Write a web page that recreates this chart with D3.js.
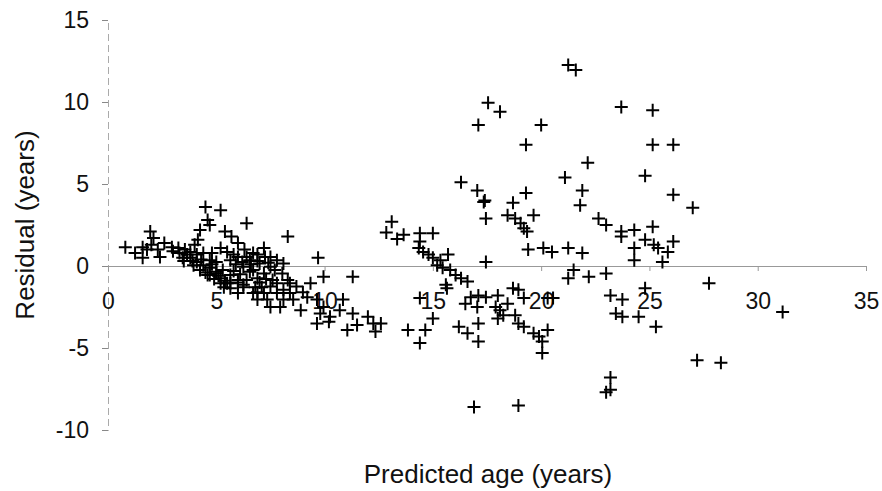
<!DOCTYPE html>
<html>
<head>
<meta charset="utf-8">
<script src="https://cdn.jsdelivr.net/npm/d3@7"></script>
<style>
  body { margin: 0; background: #fff; }
  svg { display: block; font-family: "Liberation Sans", Arial, sans-serif; }
</style>
</head>
<body>
<div id="chart"></div>
<script>
// residual vs predicted age
const xTicks = [0, 5, 10, 15, 20, 25, 30, 35];
const yTicks = [-10, -5, 0, 5, 10, 15];

const predicted = [
  // 0 - 7
  0.8, 1.25, 1.6, 1.6, 1.95, 2.1, 2.0, 2.4, 2.3, 1.8, 2.6, 2.95, 3.25, 3.55, 3.8, 4.0, 4.15, 4.25, 4.5, 5.2,
  4.6, 4.7, 5.4, 5.7, 6.4, 4.1, 3.8, 4.1, 4.4, 4.7, 5.0, 4.7, 5.2, 5.5, 6.0, 5.65, 5.0, 5.2, 5.5, 5.8,
  6.2, 6.4, 6.7, 6.55, 6.9, 6.9, 3.65, 3.3, 3.45, 3.95, 4.25, 4.6, 5.3, 5.65, 6.0, 6.25,
  3.0, 3.5, 3.9, 4.3, 4.5, 4.9, 5.1, 5.4, 4.8, 5.8, 6.1, 5.9, 6.6, 7.0, 6.8, 7.3, 7.1, 4.4, 4.8, 6.3, 6.9, 7.4,
  // 7 - 13
  8.3, 9.7, 9.95, 11.3, 7.2, 7.5, 7.8, 8.1, 6.9, 6.7, 7.2, 7.6, 7.5, 7.8, 8.1, 7.95, 6.7, 6.9, 7.35, 7.5,
  7.2, 8.4, 8.7, 9.0, 9.35, 9.2, 8.9, 9.65, 9.95, 9.8, 9.65, 10.25, 10.85, 10.7, 11.3, 11.05, 11.5, 12.0, 12.25, 12.35,
  12.6, 6.0, 5.65, 5.0, 5.2, 5.35, 6.25, 6.4, 4.7, 5.65, 6.0, 6.55, 6.25, 7.5, 7.0, 7.25, 7.7, 8.05, 8.3, 7.8,
  8.1, 8.4, 8.55, 6.0, 10.2, 12.85, 13.35,
  // 13 - 20
  13.1, 13.65, 14.4, 15.0, 14.4, 14.35, 14.55, 14.8, 15.0, 15.35, 15.7, 15.2, 15.45, 15.8, 16.05, 16.3, 16.6, 15.6, 15.65, 17.45,
  14.4, 15.0, 14.65, 14.4, 13.85, 16.2, 16.6, 17.1, 17.1, 16.75, 17.1, 17.45, 17.05, 16.5, 18.0, 17.9, 18.1, 18.0, 18.25, 18.7,
  18.95, 18.45, 18.8, 18.95, 19.2, 19.65, 19.9, 20.05, 19.2, 17.45, 17.35, 18.45, 18.7, 18.8, 19.05, 19.2, 19.35, 19.65, 19.4, 20.1,
  // upper spread
  21.25, 21.6, 17.55, 18.1, 17.1, 20.0, 19.3, 23.7, 25.15, 25.15, 26.1, 22.15, 21.1, 24.8, 16.3, 26.1, 27.0, 17.05, 17.4, 19.3, 21.9,
  // 20 - 31
  20.05, 16.9, 18.95, 23.2, 23.2, 23.0, 21.8, 22.65, 23.0, 23.7, 23.7, 24.3, 25.15, 24.8, 25.2, 25.4, 24.3, 24.3, 25.85, 26.1,
  25.6, 27.75, 20.5, 21.25, 21.9, 21.5, 21.25, 22.2, 23.0, 23.2, 23.75, 23.45, 23.75, 24.5, 24.8, 25.3, 20.3, 20.3, 20.55,
  31.15, 27.2, 28.3
];

const residual = [
  1.15, 0.8, 0.5, 1.15, 2.1, 1.7, 1.3, 0.55, 1.0, 1.0, 1.4, 1.15, 1.1, 1.0, 0.85, 1.3, 1.6, 2.2, 3.6, 3.4,
  2.8, 2.5, 2.1, 1.8, 2.6, 0.7, 0.5, 0.25, 0.05, -0.1, -0.35, -0.55, -0.75, -1.05, -1.65, -1.35, 0.25, 1.1, 0.85, 0.7,
  0.25, 0.55, 0.8, -0.35, -0.75, -1.6, 0.7, 0.8, 0.5, 0.05, -0.25, -0.55, -0.25, -0.55, -1.0, -1.15,
  0.9, 0.3, 0.3, 0.4, -0.4, -0.8, -0.6, -0.9, 0.1, -0.3, -0.5, 0.1, 0.1, -1.0, -1.3, -0.8, -1.3, 0.8, 0.8, 1.0, 0.3, 0.2,
  1.8, 0.5, -0.65, -0.65, 1.1, 0.55, 0.35, 0.15, 0.7, -0.25, -0.45, -0.85, -1.25, -1.65, -2.05, -2.5, -1.65, -2.05, -2.05, -2.5,
  -1.65, -1.05, -1.25, -1.6, -1.05, -1.9, -2.7, -2.05, -2.5, -2.9, -3.5, -3.1, -2.05, -2.7, -2.9, -3.9, -3.6, -3.1, -3.5, -4.0,
  -3.5, -0.85, -1.05, -0.45, -1.05, -1.3, -1.3, -0.85, 0.35, 0.35, 0.55, 0.35, -0.05, -0.05, 0.15, 0.55, -0.25, -0.45, -0.85, -1.05,
  -1.45, -1.65, -2.05, 1.4, -3.4, 2.05, 1.65,
  2.7, 1.9, 2.0, 2.0, 1.5, 1.1, 0.85, 0.7, 0.5, 0.35, 0.7, 0.05, -0.1, -0.25, -0.55, -0.75, -0.95, -1.15, -1.35, 0.25,
  -1.95, -3.2, -3.9, -4.7, -3.9, -3.7, -4.1, -4.6, -3.5, -1.9, -1.8, -1.9, -2.5, -2.3, -1.8, -2.5, -2.7, -3.2, -3.0, -1.35,
  -1.45, -2.3, -3.0, -3.5, -3.7, -4.1, -4.3, -4.6, -1.95, 2.9, 3.9, 3.1, 3.85, 2.9, 2.6, 2.3, 2.1, 3.1, 1.0, 1.1,
  12.25, 11.95, 9.95, 9.4, 8.6, 8.6, 7.4, 9.7, 9.5, 7.4, 7.4, 6.3, 5.4, 5.5, 5.1, 4.35, 3.55, 4.6, 4.0, 4.45, 4.6,
  -5.3, -8.6, -8.5, -6.8, -7.55, -7.7, 3.7, 2.9, 2.5, 2.1, 1.8, 2.2, 2.4, 1.6, 1.3, 1.1, 1.1, 0.35, 0.85, 1.5,
  0.25, -1.05, 0.85, 1.1, 0.8, -0.25, -0.75, -0.65, -0.45, -1.8, -2.05, -2.9, -3.1, -3.1, -1.35, -3.7, -1.95, -3.9, -1.95,
  -2.8, -5.75, -5.9
];

const points = predicted.map((p, i) => ({ x: p, y: residual[i] }));

const width = 882, height = 491;

const svg = d3.select("#chart").append("svg")
    .attr("width", width)
    .attr("height", height);

const x = d3.scaleLinear().domain([0, 35]).range([108, 866]);
const y = d3.scaleLinear().domain([-10, 15]).range([430, 20]);

// y axis: faint dashed line with short ticks on the left
const yAxis = svg.append("g")
    .attr("transform", `translate(${x(0)},0)`)
    .call(d3.axisLeft(y).tickValues(yTicks).tickSize(6).tickPadding(13).tickFormat(d => String(d)));
yAxis.select(".domain").attr("stroke", "#aaa").attr("stroke-dasharray", "7,4");
yAxis.selectAll(".tick line").attr("stroke", "#888");
yAxis.selectAll("text").attr("font-size", 23).attr("fill", "#111")
    .style("font-family", "'Liberation Sans', Arial, sans-serif");

// x axis sits on residual = 0
const xAxis = svg.append("g")
    .attr("transform", `translate(0,${y(0)})`)
    .call(d3.axisBottom(x).tickValues(xTicks).tickSize(5).tickPadding(22).tickFormat(d => String(d)));
xAxis.select(".domain").attr("stroke", "#999");
xAxis.selectAll(".tick line").attr("stroke", "#999");
xAxis.selectAll("text").attr("font-size", 23).attr("fill", "#111")
    .style("font-family", "'Liberation Sans', Arial, sans-serif");

// plus markers
const arm = 6.5;
svg.append("g")
    .selectAll("path")
    .data(points)
    .join("path")
    .attr("transform", d => `translate(${x(d.x)},${y(d.y)})`)
    .attr("d", `M${-arm},0H${arm}M0,${-arm}V${arm}`)
    .attr("stroke", "#000")
    .attr("stroke-width", 2)
    .attr("fill", "none");

// titles
svg.append("text")
    .attr("transform", "translate(34,225) rotate(-90)")
    .attr("text-anchor", "middle")
    .attr("font-size", 26)
    .attr("fill", "#111")
    .text("Residual (years)");

svg.append("text")
    .attr("x", 488)
    .attr("y", 483)
    .attr("text-anchor", "middle")
    .attr("font-size", 26)
    .attr("fill", "#111")
    .text("Predicted age (years)");
</script>
</body>
</html>
